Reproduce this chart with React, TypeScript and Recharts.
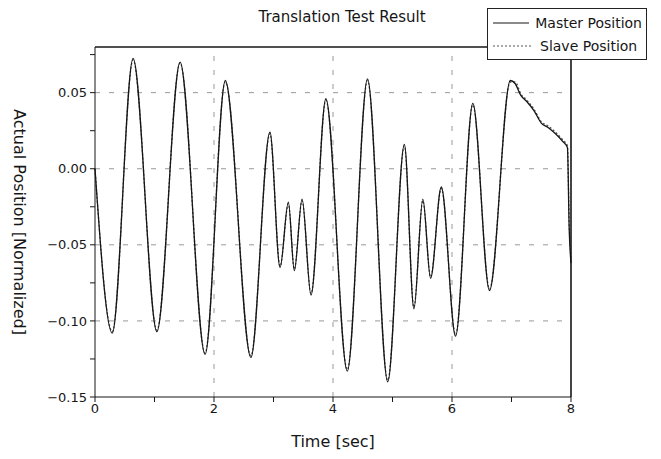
import { LineChart, Line, XAxis, YAxis, ReferenceLine, Legend } from 'recharts';

// time axis (sec) at the turning points
const timeSec = [
  0, 0.29, 0.64, 1.04, 1.43, 1.85, 2.19, 2.62, 2.94, 3.11, 3.25, 3.35, 3.48, 3.63,
  3.88, 4.24, 4.58, 4.92, 5.2, 5.36, 5.51, 5.64, 5.82, 6.06, 6.35, 6.63, 6.98,
  7.06, 7.16, 7.26, 7.38, 7.5, 7.62, 7.74, 7.86, 7.94, 7.97, 8.0,
];

const masterPos = [
  0, -0.108, 0.0725, -0.107, 0.07, -0.122, 0.058, -0.124, 0.024, -0.065, -0.022, -0.067, -0.02, -0.083,
  0.046, -0.133, 0.059, -0.14, 0.016, -0.092, -0.02, -0.072, -0.012, -0.11, 0.043, -0.08, 0.058,
  0.056, 0.048, 0.044, 0.038, 0.03, 0.027, 0.023, 0.018, 0.014, -0.04, -0.062,
];

const slavePos = [
  0, -0.107, 0.0715, -0.106, 0.0695, -0.121, 0.057, -0.123, 0.023, -0.064, -0.023, -0.066, -0.021, -0.082,
  0.045, -0.132, 0.058, -0.139, 0.015, -0.091, -0.021, -0.071, -0.013, -0.109, 0.042, -0.079, 0.057,
  0.057, 0.049, 0.045, 0.039, 0.031, 0.028, 0.024, 0.019, 0.015, -0.035, -0.06,
];

const xTicks = [0, 1, 2, 3, 4, 5, 6, 7, 8];
const yTicks = [-0.15, -0.125, -0.1, -0.075, -0.05, -0.025, 0, 0.025, 0.05, 0.075];
const xGrid = [2, 4, 6];
const yGrid = [0.05, 0, -0.05, -0.1];
const Y_TOP = 0.08;

const masterData = timeSec.map((t, i) => ({ t, v: masterPos[i] }));
const slaveData = timeSec.map((t, i) => ({ t, v: slavePos[i] }));

const FONT = '"DejaVu Sans", Verdana, sans-serif';
const INK = '#161616';

const fmtX = (v: number) => (v % 2 === 0 ? String(v) : '');
const fmtY = (v: number) => {
  const k = v * 20;
  if (Math.abs(k - Math.round(k)) > 1e-6) return '';
  return v.toFixed(2).replace('-', '\u2212');
};

function LegendBox() {
  const row = (dash: string | undefined, color: string, label: string) => (
    <div style={{ display: 'flex', alignItems: 'center', height: 23, whiteSpace: 'nowrap' }}>
      <svg width={42} height={10} style={{ marginRight: 6 }}>
        <line x1={1} y1={5} x2={41} y2={5} stroke={color} strokeWidth={1.2} strokeDasharray={dash} />
      </svg>
      <span style={{ fontSize: 14, color: INK, fontFamily: FONT }}>{label}</span>
    </div>
  );
  return (
    <div style={{ border: '1px solid #222', background: '#fff', padding: '2px 4px', width: 160, boxSizing: 'border-box' }}>
      {row(undefined, INK, 'Master Position')}
      {row('2 2', '#555', 'Slave Position')}
    </div>
  );
}

export default function App() {
  return (
    <div style={{ position: 'absolute', left: 0, top: 0, width: 661, height: 459, background: '#fff', fontFamily: FONT }}>
      <div style={{ position: 'absolute', left: 142, width: 400, top: 8, textAlign: 'center', fontSize: 15, color: INK }}>
        Translation Test Result
      </div>
      <LineChart width={661} height={459} margin={{ top: 47, right: 90, bottom: 0, left: 0 }}>
        <XAxis
          xAxisId="b"
          dataKey="t"
          type="number"
          domain={[0, 8]}
          ticks={xTicks}
          tickFormatter={fmtX}
          height={62}
          stroke={INK}
          tickSize={5}
          tickMargin={2}
          tick={{ fill: INK, fontSize: 13, fontFamily: FONT }}
          label={{ value: 'Time [sec]', position: 'insideBottom', offset: 12, fill: INK, fontSize: 16, fontFamily: FONT }}
        />
        <XAxis xAxisId="t" dataKey="t" type="number" orientation="top" domain={[0, 8]} ticks={xTicks}
          tickFormatter={() => ''} height={1} mirror stroke={INK} tickSize={4} />
        <YAxis
          yAxisId="l"
          type="number"
          domain={[-0.15, Y_TOP]}
          ticks={yTicks}
          tickFormatter={fmtY}
          width={95}
          stroke={INK}
          tickSize={5}
          tickMargin={3}
          interval={0}
          tick={{ fill: INK, fontSize: 13, fontFamily: FONT }}
          label={{ value: 'Actual Position [Normalized]', angle: 90, position: 'insideLeft', offset: 20, fill: INK, fontSize: 16, fontFamily: FONT, style: { textAnchor: 'middle' } }}
        />
        <YAxis yAxisId="r" type="number" orientation="right" domain={[-0.15, Y_TOP]} ticks={yTicks}
          tickFormatter={() => ''} width={1} mirror stroke={INK} tickSize={4} interval={0} />
        {xGrid.map((x) => (
          <ReferenceLine key={`gx${x}`} xAxisId="b" yAxisId="l" x={x} stroke="#999" strokeDasharray="5 9" />
        ))}
        {yGrid.map((y) => (
          <ReferenceLine key={`gy${y}`} xAxisId="b" yAxisId="l" y={y} stroke="#999" strokeDasharray="5 9" />
        ))}
        <ReferenceLine xAxisId="b" yAxisId="l" x={8} stroke={INK} strokeWidth={1.2} />
        <ReferenceLine xAxisId="b" yAxisId="l" y={Y_TOP} stroke={INK} strokeWidth={1.2} />
        <Line xAxisId="b" yAxisId="l" data={slaveData} dataKey="v" type="monotone" stroke="#555"
          strokeWidth={1.3} strokeDasharray="2 2" dot={false} isAnimationActive={false} />
        <Line xAxisId="b" yAxisId="l" data={masterData} dataKey="v" type="monotone" stroke={INK}
          strokeWidth={1.3} dot={false} isAnimationActive={false} />
        <Legend layout="vertical" align="center" verticalAlign="middle" content={() => <LegendBox />}
          wrapperStyle={{ left: 487, top: 8, width: 160 }} />
      </LineChart>
    </div>
  );
}
